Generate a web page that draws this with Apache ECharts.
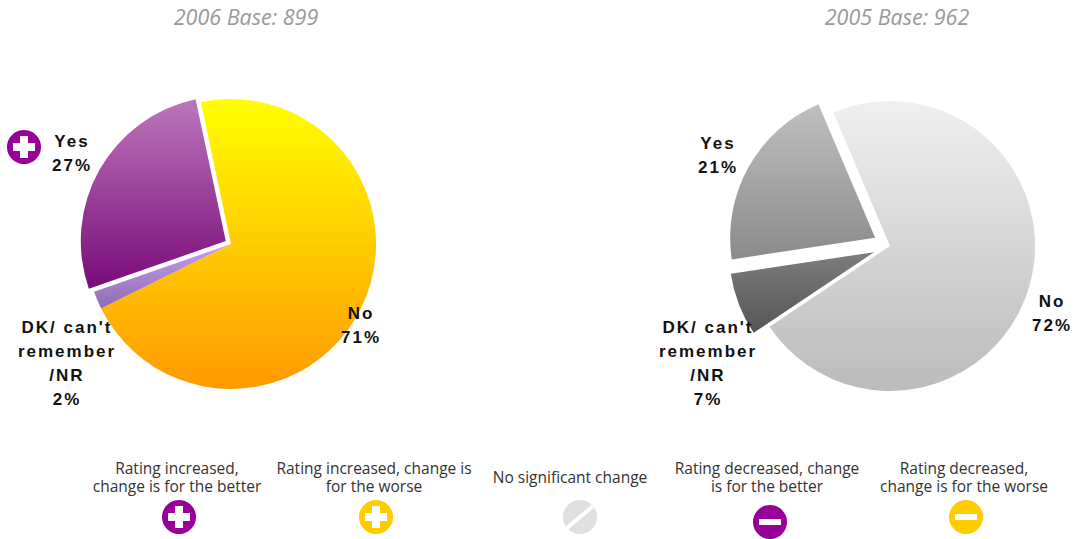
<!DOCTYPE html>
<html>
<head>
<meta charset="utf-8">
<title>Pie</title>
<script src="https://cdn.jsdelivr.net/npm/echarts@6/dist/echarts.min.js"></script>
<style>
html, body { margin: 0; padding: 0; background: #fff; }
#chart { width: 1075px; height: 539px; }
/* pie labels are spaced out in the original */
#chart text[style*="bold"] { letter-spacing: 2px; }
</style>
</head>
<body>
<div id="chart"></div>
<script>
// data
const categories = ['No', "DK/ can't\nremember\n/NR", 'Yes']
const values2006 = [71, 2, 27]
const values2005 = [72, 7, 21]
const titles = ['2006 Base: 899', '2005 Base: 962']
const legendLabels = [
  'Rating increased,\nchange is for the better',
  'Rating increased, change is\nfor the worse',
  'No significant change',
  'Rating decreased, change\nis for the better',
  'Rating decreased,\nchange is for the worse'
]
const legendIcons = ['plus', 'plus', 'slash', 'minus', 'minus']

const PURPLE = '#990099'
const AMBER = '#ffcc00'
const GREY = '#e0e0e0'
const legendColors = [PURPLE, AMBER, GREY, PURPLE, AMBER]
const legendTextX = [177, 374, 570, 767, 964]
const legendIconX = [179, 376, 580, 770, 966]
const legendIconY = [517, 517, 517, 522, 517]
const UI_FONT = '"Open Sans", Lato, sans-serif'

// 上下渐变
function grad (top, bottom) {
  return new echarts.graphic.LinearGradient(0, 0, 0, 1, [
    { offset: 0, color: top },
    { offset: 1, color: bottom }
  ])
}

// 一个饼图系列
function pieSeries (values, center, startAngle, offset, colors, exploded) {
  return {
    type: 'pie',
    center: center,
    radius: 145,
    startAngle: startAngle,
    silent: true,
    animation: false,
    selectedMode: 'multiple',
    selectedOffset: offset,
    select: { itemStyle: { borderWidth: 0 } },
    // 选中状态下 labelLayout 不生效，标签放到 graphic 里画
    label: { show: false },
    labelLine: { show: false },
    data: categories.map((name, i) => ({
      name: name,
      value: values[i],
      selected: exploded[i],
      itemStyle: { color: grad(colors[i][0], colors[i][1]) }
    }))
  }
}

// 饼图标签
function pieLabels (values, positions) {
  return categories.map((name, i) => ({
    type: 'text',
    x: positions[i][0],
    y: positions[i][1],
    z: 10,
    style: {
      text: name + '\n' + values[i] + '%',
      fill: '#111',
      font: 'bold 17px "Liberation Sans", Arial, sans-serif',
      lineHeight: 24,
      align: 'center',
      verticalAlign: 'middle'
    }
  }))
}

// 图例圆形图标
function iconShapes (type, x, y, r, color) {
  const out = [{
    type: 'circle',
    shape: { cx: x, cy: y, r: r },
    style: { fill: color }
  }]
  const white = { fill: '#fff' }
  if (type === 'plus' || type === 'minus') {
    out.push({ type: 'rect', shape: { x: x - 11, y: y - (type === 'plus' ? 4 : 3), width: 22, height: type === 'plus' ? 8 : 6 }, style: white })
  }
  if (type === 'plus') {
    out.push({ type: 'rect', shape: { x: x - 4, y: y - 11, width: 8, height: 22 }, style: white })
  }
  if (type === 'slash') {
    out.push({
      type: 'line',
      shape: { x1: x - 13, y1: y + 11, x2: x + 13, y2: y - 11 },
      style: { stroke: '#fff', lineWidth: 4 }
    })
  }
  return out
}

const graphics = iconShapes('plus', 24, 147, 17, PURPLE)
graphics.push(...pieLabels(values2006, [[361, 325], [67, 363], [72, 153]]))
graphics.push(...pieLabels(values2005, [[1052, 313], [708, 363], [718, 155]]))
legendLabels.forEach((text, i) => {
  graphics.push({
    type: 'text',
    x: legendTextX[i],
    y: 477,
    style: {
      text: text,
      fill: '#333',
      font: '15.5px ' + UI_FONT,
      lineHeight: 18,
      align: 'center',
      verticalAlign: 'middle'
    }
  })
  graphics.push(...iconShapes(legendIcons[i], legendIconX[i], legendIconY[i], 17, legendColors[i]))
})

const myChart = echarts.init(document.getElementById('chart'), null, { renderer: 'svg' })
myChart.setOption({
  backgroundColor: '#fff',
  animation: false,
  title: titles.map((text, i) => ({
    text: text,
    left: i === 0 ? 241 : 892,
    top: 0,
    textAlign: 'center',
    textStyle: {
      color: '#999',
      fontFamily: UI_FONT,
      fontStyle: 'italic',
      fontWeight: 'normal',
      fontSize: 21.5
    }
  })),
  series: [
    pieSeries(values2006, [231, 244], 102, 6,
      [['#ffff00', '#ff9900'], ['#c99cf2', '#8e6db0'], ['#bb77bb', '#7a0a7a']],
      [false, false, true]),
    pieSeries(values2005, [890, 246], 113, 17,
      [['#f0f0f0', '#bbbbbb'], ['#7d7d7d', '#555555'], ['#c0c0c0', '#8a8a8a']],
      [false, true, true])
  ],
  graphic: graphics
})
</script>
</body>
</html>
